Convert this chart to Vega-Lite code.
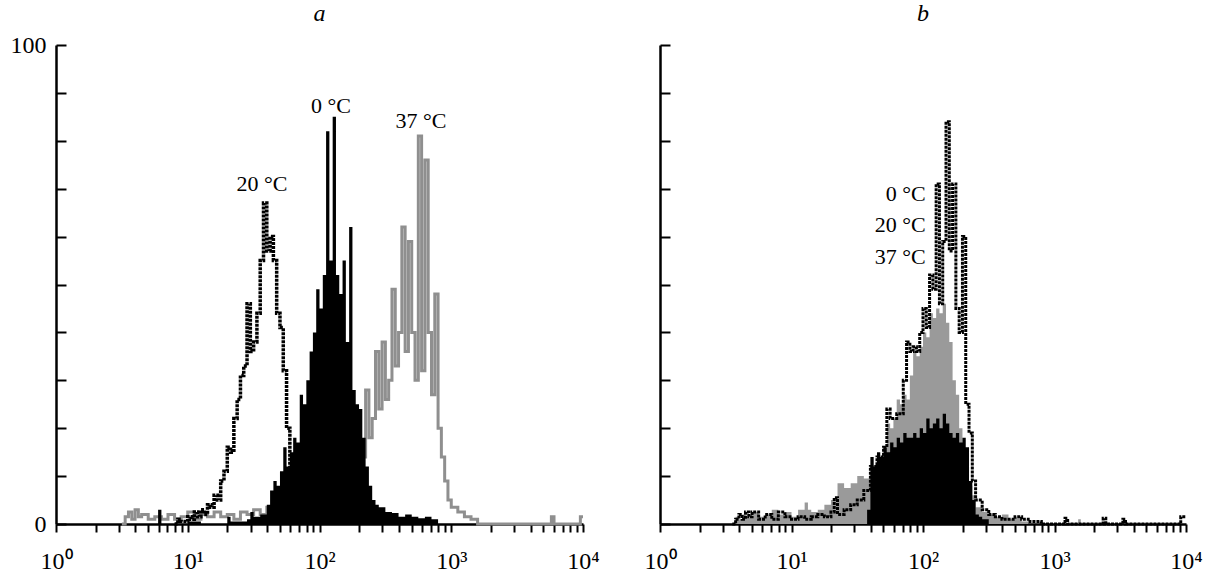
{
  "$schema": "https://vega.github.io/schema/vega-lite/v6.json",
  "autosize": {"type": "pad"},
  "padding": {"left": 10, "top": 2, "right": 10, "bottom": 4},
  "background": "white",
  "spacing": 77,
  "bounds": "flush",
  "config": {
    "view": {"stroke": null},
    "axis": {"grid": false, "domainColor": "black", "domainWidth": 2.5, "tickColor": "black", "tickWidth": 2, "labelFont": "Liberation Serif", "labelFontSize": 24, "labelColor": "black", "title": null},
    "title": {"font": "Liberation Serif", "fontSize": 24, "fontStyle": "italic", "fontWeight": "normal", "color": "black", "anchor": "middle", "baseline": "alphabetic"}
  },
  "datasets": {
    "a37": [
      {"x":0.5,"y":0},{"x":0.525,"y":1.5},{"x":0.55,"y":2.5},{"x":0.575,"y":1},{"x":0.6,"y":3},{"x":0.625,"y":1.5},{"x":0.65,"y":2},{"x":0.7,"y":1},{"x":0.75,"y":1.5},{"x":0.8,"y":1},{"x":0.85,"y":2},{"x":0.9,"y":1},{"x":0.95,"y":1.5},{"x":1.0,"y":2.5},{"x":1.05,"y":1},{"x":1.1,"y":2},{"x":1.15,"y":1.5},{"x":1.2,"y":2.5},{"x":1.25,"y":1.5},{"x":1.3,"y":2},{"x":1.35,"y":1},{"x":1.4,"y":2.5},{"x":1.45,"y":2},{"x":1.5,"y":3},{"x":1.55,"y":2},{"x":1.6,"y":3.5},{"x":1.65,"y":2.5},{"x":1.7,"y":4},{"x":1.75,"y":3.5},{"x":1.8,"y":5},{"x":1.85,"y":4},{"x":1.9,"y":6},{"x":1.95,"y":5},{"x":2.0,"y":7},{"x":2.025,"y":6},{"x":2.05,"y":9},{"x":2.075,"y":7},{"x":2.1,"y":10},{"x":2.125,"y":8},{"x":2.15,"y":11},{"x":2.175,"y":9},{"x":2.2,"y":12},{"x":2.225,"y":10},{"x":2.25,"y":14},{"x":2.275,"y":12},{"x":2.3,"y":16},{"x":2.325,"y":14},{"x":2.35,"y":28},{"x":2.375,"y":18},{"x":2.4,"y":22},{"x":2.425,"y":36},{"x":2.45,"y":24},{"x":2.475,"y":38},{"x":2.5,"y":26},{"x":2.525,"y":30},{"x":2.55,"y":49},{"x":2.575,"y":33},{"x":2.6,"y":40},{"x":2.625,"y":62},{"x":2.65,"y":36},{"x":2.675,"y":59},{"x":2.7,"y":40},{"x":2.725,"y":30},{"x":2.75,"y":81},{"x":2.775,"y":32},{"x":2.8,"y":76},{"x":2.825,"y":40},{"x":2.85,"y":27},{"x":2.875,"y":48},{"x":2.9,"y":20},{"x":2.925,"y":14},{"x":2.95,"y":9},{"x":2.975,"y":5},{"x":3.0,"y":3.5},{"x":3.05,"y":2.5},{"x":3.1,"y":1.5},{"x":3.15,"y":1},{"x":3.2,"y":0},{"x":3.75,"y":0},{"x":3.76,"y":1.5},{"x":3.78,"y":0},{"x":3.98,"y":1.5},{"x":4.0,"y":1.5}
    ],
    "a0": [
      {"x":0.75,"y":0},{"x":0.775,"y":3},{"x":0.8,"y":0},{"x":1.0,"y":0.5},{"x":1.1,"y":0},{"x":1.3,"y":1.5},{"x":1.325,"y":0.5},{"x":1.45,"y":1},{"x":1.475,"y":2.5},{"x":1.5,"y":1.5},{"x":1.55,"y":2},{"x":1.6,"y":4},{"x":1.625,"y":7},{"x":1.65,"y":9},{"x":1.675,"y":8},{"x":1.7,"y":11},{"x":1.725,"y":16},{"x":1.75,"y":12},{"x":1.775,"y":15},{"x":1.8,"y":18},{"x":1.825,"y":17},{"x":1.85,"y":27},{"x":1.875,"y":25},{"x":1.9,"y":30},{"x":1.925,"y":36},{"x":1.95,"y":40},{"x":1.975,"y":49},{"x":2.0,"y":45},{"x":2.025,"y":52},{"x":2.05,"y":82},{"x":2.075,"y":55},{"x":2.1,"y":85},{"x":2.125,"y":52},{"x":2.15,"y":48},{"x":2.175,"y":55},{"x":2.2,"y":38},{"x":2.225,"y":62},{"x":2.25,"y":28},{"x":2.275,"y":25},{"x":2.3,"y":24},{"x":2.325,"y":18},{"x":2.35,"y":12},{"x":2.375,"y":8},{"x":2.4,"y":5},{"x":2.425,"y":4},{"x":2.45,"y":3.5},{"x":2.5,"y":2.5},{"x":2.55,"y":2.3},{"x":2.6,"y":1.5},{"x":2.65,"y":2},{"x":2.7,"y":1.5},{"x":2.75,"y":1.2},{"x":2.8,"y":1.5},{"x":2.85,"y":1},{"x":2.9,"y":0}
    ],
    "a20": [
      {"x":0.9,"y":0},{"x":0.925,"y":1},{"x":0.95,"y":0.5},{"x":1.0,"y":1.5},{"x":1.025,"y":1},{"x":1.05,"y":2.5},{"x":1.075,"y":1.5},{"x":1.1,"y":3},{"x":1.125,"y":2},{"x":1.15,"y":4},{"x":1.175,"y":3.5},{"x":1.2,"y":6},{"x":1.225,"y":5},{"x":1.25,"y":9},{"x":1.275,"y":11},{"x":1.3,"y":16},{"x":1.325,"y":15},{"x":1.35,"y":22},{"x":1.375,"y":26},{"x":1.4,"y":31},{"x":1.425,"y":33},{"x":1.45,"y":46},{"x":1.475,"y":36},{"x":1.5,"y":38},{"x":1.525,"y":44},{"x":1.55,"y":55},{"x":1.575,"y":67},{"x":1.6,"y":57},{"x":1.625,"y":60},{"x":1.65,"y":55},{"x":1.675,"y":44},{"x":1.7,"y":41},{"x":1.725,"y":32},{"x":1.75,"y":20},{"x":1.775,"y":12},{"x":1.8,"y":6},{"x":1.825,"y":3},{"x":1.85,"y":1.5},{"x":1.875,"y":0.5},{"x":1.9,"y":0}
    ],
    "b20": [
      {"x":0.55,"y":0},{"x":0.575,"y":1.5},{"x":0.6,"y":1},{"x":0.625,"y":2},{"x":0.65,"y":1.5},{"x":0.7,"y":2.5},{"x":0.75,"y":1.5},{"x":0.8,"y":2},{"x":0.85,"y":3},{"x":0.9,"y":2},{"x":0.95,"y":2.5},{"x":1.0,"y":1.5},{"x":1.05,"y":3},{"x":1.1,"y":4.5},{"x":1.125,"y":3},{"x":1.15,"y":2.5},{"x":1.2,"y":3},{"x":1.25,"y":4},{"x":1.3,"y":5},{"x":1.35,"y":8.5},{"x":1.4,"y":7.5},{"x":1.45,"y":8.5},{"x":1.5,"y":10},{"x":1.55,"y":9.5},{"x":1.6,"y":10.5},{"x":1.625,"y":10},{"x":1.65,"y":14},{"x":1.7,"y":13.5},{"x":1.725,"y":21},{"x":1.75,"y":20},{"x":1.775,"y":22},{"x":1.8,"y":26},{"x":1.825,"y":25},{"x":1.85,"y":27},{"x":1.875,"y":26},{"x":1.9,"y":31},{"x":1.925,"y":36},{"x":1.95,"y":35},{"x":1.975,"y":37},{"x":2.0,"y":40},{"x":2.025,"y":39},{"x":2.05,"y":44},{"x":2.075,"y":43},{"x":2.1,"y":45},{"x":2.125,"y":44},{"x":2.15,"y":46},{"x":2.175,"y":42},{"x":2.2,"y":38},{"x":2.225,"y":30},{"x":2.25,"y":27},{"x":2.275,"y":20},{"x":2.3,"y":15},{"x":2.325,"y":12},{"x":2.35,"y":8},{"x":2.375,"y":6},{"x":2.4,"y":3.5},{"x":2.45,"y":2.5},{"x":2.5,"y":2},{"x":2.55,"y":1.5},{"x":2.6,"y":2},{"x":2.65,"y":1},{"x":2.7,"y":1.2},{"x":2.75,"y":0.5},{"x":2.8,"y":0},{"x":3.17,"y":0},{"x":3.18,"y":1},{"x":3.2,"y":0}
    ],
    "b37": [
      {"x":1.55,"y":0},{"x":1.575,"y":3},{"x":1.6,"y":14},{"x":1.625,"y":12},{"x":1.65,"y":15},{"x":1.675,"y":14},{"x":1.7,"y":16},{"x":1.725,"y":15},{"x":1.75,"y":17},{"x":1.775,"y":16},{"x":1.8,"y":18},{"x":1.825,"y":17},{"x":1.85,"y":19},{"x":1.875,"y":18},{"x":1.9,"y":18},{"x":1.925,"y":19},{"x":1.95,"y":18},{"x":1.975,"y":20},{"x":2.0,"y":19},{"x":2.025,"y":22},{"x":2.05,"y":20},{"x":2.075,"y":21},{"x":2.1,"y":22},{"x":2.125,"y":20},{"x":2.15,"y":23},{"x":2.175,"y":21},{"x":2.2,"y":19},{"x":2.225,"y":18},{"x":2.25,"y":19},{"x":2.275,"y":17},{"x":2.3,"y":18},{"x":2.325,"y":16},{"x":2.35,"y":9},{"x":2.375,"y":5},{"x":2.4,"y":2},{"x":2.425,"y":1.5},{"x":2.45,"y":1},{"x":2.5,"y":0}
    ],
    "b0": [
      {"x":0.55,"y":0},{"x":0.575,"y":1},{"x":0.6,"y":2},{"x":0.625,"y":1},{"x":0.65,"y":2.5},{"x":0.675,"y":1.5},{"x":0.7,"y":2.5},{"x":0.75,"y":1},{"x":0.8,"y":2},{"x":0.85,"y":1},{"x":0.9,"y":2.5},{"x":0.95,"y":1.5},{"x":1.0,"y":1},{"x":1.05,"y":1.5},{"x":1.1,"y":1},{"x":1.15,"y":1.5},{"x":1.2,"y":2},{"x":1.25,"y":1.5},{"x":1.3,"y":2.5},{"x":1.325,"y":5.5},{"x":1.35,"y":2},{"x":1.4,"y":3},{"x":1.45,"y":4},{"x":1.5,"y":5},{"x":1.55,"y":7},{"x":1.6,"y":12},{"x":1.65,"y":14},{"x":1.7,"y":16},{"x":1.725,"y":24},{"x":1.75,"y":22},{"x":1.8,"y":23},{"x":1.85,"y":30},{"x":1.875,"y":38},{"x":1.9,"y":36},{"x":1.925,"y":37},{"x":1.95,"y":36},{"x":1.975,"y":40},{"x":2.0,"y":45},{"x":2.025,"y":41},{"x":2.05,"y":52},{"x":2.075,"y":49},{"x":2.1,"y":71},{"x":2.125,"y":46},{"x":2.15,"y":59},{"x":2.175,"y":84},{"x":2.2,"y":57},{"x":2.225,"y":71},{"x":2.25,"y":45},{"x":2.275,"y":40},{"x":2.3,"y":60},{"x":2.325,"y":25},{"x":2.35,"y":19},{"x":2.375,"y":9},{"x":2.4,"y":5},{"x":2.45,"y":3},{"x":2.5,"y":2},{"x":2.55,"y":1.5},{"x":2.6,"y":1},{"x":2.7,"y":1.5},{"x":2.75,"y":1},{"x":2.8,"y":0.5},{"x":2.9,"y":0},{"x":3.08,"y":1.2},{"x":3.1,"y":0},{"x":3.37,"y":1.2},{"x":3.39,"y":0},{"x":3.52,"y":1},{"x":3.54,"y":0},{"x":3.96,"y":1.5},{"x":4.0,"y":1.5}
    ],
    "labA": [
      {"x":1.563,"y":71,"t":"20 °C"},{"x":2.087,"y":87.3,"t":"0 °C"},{"x":2.77,"y":84.1,"t":"37 °C"}
    ],
    "labB": [
      {"x":2.02,"y":68.9,"t":"0 °C"},{"x":2.02,"y":62.4,"t":"20 °C"},{"x":2.02,"y":55.7,"t":"37 °C"}
    ]
  },
  "hconcat": [
    {
      "width": 527, "height": 479,
      "title": {"text": "a", "offset": 7},
      "encoding": {
        "x": {"field": "x", "type": "quantitative", "scale": {"domain": [0, 4], "nice": false, "zero": false},
          "axis": {"values": [0,0.30103,0.47712,0.60206,0.69897,0.77815,0.8451,0.90309,0.95424,1,1.30103,1.47712,1.60206,1.69897,1.77815,1.8451,1.90309,1.95424,2,2.30103,2.47712,2.60206,2.69897,2.77815,2.8451,2.90309,2.95424,3,3.30103,3.47712,3.60206,3.69897,3.77815,3.8451,3.90309,3.95424,4],
            "labelExpr": "datum.value === 0 ? '10⁰' : datum.value === 1 ? '10¹' : datum.value === 2 ? '10²' : datum.value === 3 ? '10³' : datum.value === 4 ? '10⁴' : ''",
            "tickSize": 8, "labelPadding": 17, "labelOverlap": false, "labelFlush": false}},
        "y": {"field": "y", "type": "quantitative", "scale": {"domain": [0, 100], "nice": false},
          "axis": {"values": [0,10,20,30,40,50,60,70,80,90,100], "labelExpr": "datum.value === 0 || datum.value === 100 ? datum.label : ''", "tickSize": -10, "labelPadding": 20, "labelOverlap": false}}
      },
      "layer": [
        {"data": {"name": "a37"}, "mark": {"type": "line", "interpolate": "step-after", "color": "#8f8f8f", "strokeWidth": 3}},
        {"data": {"name": "a0"}, "mark": {"type": "area", "interpolate": "step-after", "color": "black"}},
        {"data": {"name": "a20"}, "mark": {"type": "line", "interpolate": "step-after", "color": "#000000", "strokeWidth": 3.5, "strokeDash": [3, 1]}},
        {"data": {"name": "labA"}, "mark": {"type": "text", "font": "Liberation Serif", "fontSize": 22, "baseline": "middle", "align": "center", "color": "black"},
          "encoding": {"text": {"field": "t", "type": "nominal"}}}
      ]
    },
    {
      "width": 526, "height": 479,
      "title": {"text": "b", "offset": 18},
      "encoding": {
        "x": {"field": "x", "type": "quantitative", "scale": {"domain": [0, 4], "nice": false, "zero": false},
          "axis": {"values": [0,0.30103,0.47712,0.60206,0.69897,0.77815,0.8451,0.90309,0.95424,1,1.30103,1.47712,1.60206,1.69897,1.77815,1.8451,1.90309,1.95424,2,2.30103,2.47712,2.60206,2.69897,2.77815,2.8451,2.90309,2.95424,3,3.30103,3.47712,3.60206,3.69897,3.77815,3.8451,3.90309,3.95424,4],
            "labelExpr": "datum.value === 0 ? '10⁰' : datum.value === 1 ? '10¹' : datum.value === 2 ? '10²' : datum.value === 3 ? '10³' : datum.value === 4 ? '10⁴' : ''",
            "tickSize": 8, "labelPadding": 17, "labelOverlap": false, "labelFlush": false}},
        "y": {"field": "y", "type": "quantitative", "scale": {"domain": [0, 100], "nice": false},
          "axis": {"values": [0,10,20,30,40,50,60,70,80,90,100], "labels": false, "tickSize": -10}}
      },
      "layer": [
        {"data": {"name": "b20"}, "mark": {"type": "area", "interpolate": "step-after", "color": "#9a9a9a"}},
        {"data": {"name": "b37"}, "mark": {"type": "area", "interpolate": "step-after", "color": "black"}},
        {"data": {"name": "b0"}, "mark": {"type": "line", "interpolate": "step-after", "color": "#000000", "strokeWidth": 3, "strokeDash": [3, 1]}},
        {"data": {"name": "labB"}, "mark": {"type": "text", "font": "Liberation Serif", "fontSize": 22, "baseline": "middle", "align": "right", "color": "black"},
          "encoding": {"text": {"field": "t", "type": "nominal"}}}
      ]
    }
  ]
}
